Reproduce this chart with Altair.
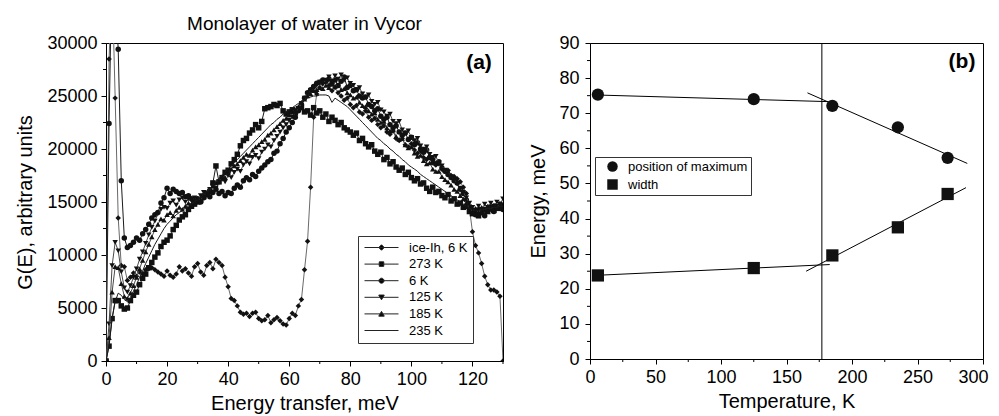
import altair as alt
import pandas as pd

FONT = "Liberation Sans"

# ---------------- panel (a): G(E) spectra, values in thousands of arbitrary units ----------------
energy = list(range(131))

ice_ih_6k = [0, 28.5, 36.0, 24.8, 13.5, 9.0, 8.9, 7.6, 7.9, 8.3,
             8.0, 8.4, 8.2, 8.6, 8.7, 8.8, 8.6, 8.4, 8.2, 8.0,
             8.5, 8.1, 7.9, 8.2, 8.9, 8.5, 8.7, 8.3, 8.0, 8.9,
             9.2, 8.4, 8.1, 9.0, 9.3, 8.7, 9.6, 9.3, 9.0, 7.9,
             7.0, 5.9, 5.7, 5.2, 4.6, 4.4, 4.5, 4.2, 4.5, 4.6,
             4.0, 3.8, 3.9, 4.3, 3.6, 3.9, 4.1, 3.8, 3.5, 3.4,
             4.0, 4.5, 4.3, 5.2, 5.8, 8.6, 11.3, 16.4, 23.0, 25.2,
             25.8, 26.2, 26.4, 26.0, 25.5, 25.8, 25.3, 25.0, 24.6, 24.8,
             24.2, 23.9, 24.1, 23.5, 23.3, 23.6, 23.0, 22.7, 22.9, 22.3,
             22.0, 22.2, 21.6, 21.4, 21.7, 21.0, 20.8, 21.0, 20.4, 20.2,
             20.5, 19.9, 19.6, 19.8, 19.2, 19.0, 19.3, 18.7, 18.5, 18.6,
             18.1, 17.9, 18.0, 17.5, 17.4, 17.2, 16.9, 16.4, 15.8, 14.4,
             12.2, 10.9, 10.2, 9.2, 8.0, 7.2, 6.7, 6.7, 6.5, 6.1,
             0]

water_273k = [0, 1.4, 4.0, 5.7, 5.7, 5.2, 4.9, 5.0, 5.7, 6.2,
              6.5, 7.2, 7.8, 8.2, 8.8, 9.3, 9.8, 10.2, 10.8, 11.2,
              11.4, 11.8, 12.4, 12.8, 13.3, 13.6, 13.8, 14.3, 14.6, 14.8,
              15.0, 15.2, 15.5, 15.8, 16.0, 16.8, 18.4, 16.9, 17.3, 17.8,
              18.0, 18.6, 19.0, 19.5, 20.3, 20.8, 21.0, 21.5, 21.8, 22.3,
              22.0, 22.6, 23.8, 23.9, 24.0, 24.2, 24.1, 24.3, 23.6, 23.3,
              23.5, 23.7, 23.4, 23.8, 23.9, 23.5, 23.6, 23.2, 23.9, 23.4,
              23.6, 23.0, 23.3, 22.6, 23.0, 22.7, 22.3, 22.5, 22.0, 21.8,
              21.6, 21.3, 21.5, 20.8, 21.0, 20.5, 20.2, 20.4, 19.8, 19.5,
              19.7, 19.0, 19.2, 18.6, 18.8, 18.3, 18.0, 18.2, 17.6, 17.8,
              17.3, 17.0, 17.2, 16.7, 16.8, 16.3, 16.0, 16.4, 15.9, 16.0,
              15.6, 15.4, 15.7, 15.1, 15.3, 14.8, 14.9, 14.5, 14.6, 14.1,
              13.9, 14.2, 13.7, 14.0, 14.3, 14.1, 14.5, 14.2, 14.6, 14.4,
              14.7]

water_6k = [0, 22.4, 38.0, 35.0, 29.4, 17.0, 11.6, 10.7, 10.9, 11.2,
            11.6, 11.4, 12.0, 12.4, 12.9, 13.5, 13.8, 14.0, 14.9, 15.4,
            16.3, 15.8, 16.2, 16.0, 15.8, 15.9, 15.5, 15.6, 15.3, 15.1,
            15.3, 15.0, 15.4, 15.7, 15.5, 15.9, 16.2, 15.8, 16.0, 15.6,
            15.9, 15.8, 16.3, 16.6, 16.4, 17.0, 17.3, 17.1, 17.6, 17.4,
            17.9, 18.2, 18.5, 18.8, 19.0, 19.6, 19.8, 20.5, 21.0, 21.6,
            22.0, 22.5, 23.0, 23.6, 24.2, 24.8, 25.3, 25.6, 25.9, 26.2,
            26.3, 26.5, 26.4, 26.6, 26.2, 26.5, 26.0, 26.4, 26.8, 25.8,
            26.0, 25.5, 25.6, 25.0, 24.8, 24.9, 24.2, 24.0, 23.6, 23.8,
            23.1, 22.8, 23.0, 22.3, 22.0, 22.2, 21.6, 21.3, 21.5, 20.9,
            21.1, 20.4, 20.6, 20.0, 19.7, 19.9, 19.2, 19.0, 18.6, 18.8,
            18.2, 17.9, 17.6, 17.3, 17.0, 16.8, 16.2, 15.8, 15.2, 14.6,
            14.2, 13.8, 14.3, 14.0, 13.7, 14.2, 14.5, 14.1, 14.4, 14.6,
            14.3]

water_125k = [0, 3.5, 9.0, 11.2, 10.4, 8.4, 6.9, 6.5, 7.1, 7.9,
              8.7, 9.6, 10.3, 11.1, 11.9, 12.6, 13.2, 13.9, 14.3, 14.5,
              14.4, 14.9, 15.1, 14.7, 15.2, 15.4, 15.0, 15.3, 15.1, 15.4,
              15.2, 15.6, 15.9, 15.7, 16.2, 16.5, 16.3, 16.8, 17.1, 16.9,
              17.5, 17.3, 17.8, 18.1, 17.9, 18.5, 18.8, 18.6, 19.2, 19.4,
              19.1, 19.7, 20.0, 20.4, 20.2, 20.8, 21.2, 21.6, 22.0, 22.3,
              22.7, 23.0, 23.4, 23.8, 24.3, 24.8, 25.2, 25.5, 25.7, 26.0,
              26.3, 26.1, 26.5, 26.8, 26.4, 26.9, 26.6, 27.0, 26.5, 26.7,
              26.2, 26.0, 25.6, 25.8, 25.2, 24.9, 25.1, 24.5, 24.2, 24.4,
              23.7, 23.5, 23.1, 23.3, 22.6, 22.4, 22.6, 21.8, 21.5, 21.7,
              21.1, 20.8, 21.0, 20.3, 20.0, 20.2, 19.5, 19.2, 19.3, 18.7,
              18.4, 18.0, 17.8, 17.4, 17.1, 16.7, 16.3, 15.9, 15.4, 14.9,
              14.5, 14.2, 14.6, 14.3, 14.8, 14.5, 14.9, 14.6, 15.0, 14.8,
              15.3]

water_185k = [0, 2.2, 6.5, 8.9, 8.8, 7.3, 6.1, 5.9, 6.4, 7.1,
              7.9, 8.7, 9.5, 10.3, 11.0, 11.7, 12.4, 12.9, 13.4, 13.3,
              13.8, 14.0, 13.7, 14.2, 14.5, 14.3, 14.6, 14.9, 14.8, 15.1,
              15.3, 15.2, 15.6, 15.9, 16.1, 16.5, 16.8, 17.0, 17.4, 17.3,
              17.8, 18.1, 18.4, 18.6, 18.9, 19.2, 19.5, 19.4, 19.9, 20.2,
              20.4, 20.7, 20.9, 21.3, 21.5, 21.8, 22.1, 22.4, 22.7, 22.9,
              23.2, 23.5, 23.7, 24.0, 24.4, 24.7, 25.0, 25.2, 25.5, 25.6,
              25.8, 25.7, 26.0, 25.8, 26.1, 25.9, 26.0, 25.6, 25.7, 25.3,
              25.1, 24.8, 24.9, 24.4, 24.1, 24.0, 23.6, 23.3, 23.4, 22.8,
              22.5, 22.6, 22.0, 21.7, 21.8, 21.2, 20.9, 21.0, 20.4, 20.1,
              20.2, 19.6, 19.3, 19.4, 18.9, 18.6, 18.7, 18.1, 17.9, 17.9,
              17.4, 17.1, 16.9, 16.6, 16.2, 16.0, 15.6, 15.3, 14.9, 14.5,
              14.1, 14.4, 14.0, 14.5, 14.2, 14.6, 14.3, 14.7, 14.5, 14.9,
              14.6]

water_235k = [0, 1.5, 4.0, 5.6, 6.4, 6.2, 5.8, 5.6, 6.0, 6.6,
              7.2, 7.9, 8.5, 9.2, 9.8, 10.4, 11.0, 11.5, 12.0, 12.5,
              12.9, 13.2, 13.5, 13.8, 14.0, 14.2, 14.4, 14.6, 14.8, 15.0,
              15.2, 15.4, 15.7, 16.0, 16.3, 16.6, 16.9, 17.2, 17.5, 17.8,
              18.1, 18.4, 18.7, 19.0, 19.3, 19.6, 19.9, 20.2, 20.5, 20.8,
              21.1, 21.4, 21.7, 22.0, 22.3, 22.5, 22.8, 23.0, 23.3, 23.5,
              23.7, 23.9, 24.1, 24.3, 24.5, 24.6, 24.8, 24.9, 25.0, 25.0,
              25.1, 25.1, 25.1, 25.0, 24.4, 24.8, 24.6, 24.4, 24.2, 24.0,
              23.7, 23.4, 23.1, 22.8, 22.5, 22.2, 21.9, 21.6, 21.3, 21.0,
              20.8, 20.5, 20.3, 20.0, 19.8, 19.5, 19.3, 19.0, 18.8, 18.5,
              18.3, 18.1, 17.9, 17.6, 17.4, 17.2, 17.0, 16.8, 16.6, 16.4,
              16.2, 16.0, 15.8, 15.6, 15.4, 15.2, 15.0, 14.8, 14.6, 14.4,
              14.3, 14.2, 14.2, 14.3, 14.3, 14.4, 14.4, 14.5, 14.5, 14.6,
              14.6]

series_names = ["ice-Ih, 6 K", "273 K", "\u2007\u20076 K", "125 K", "185 K", "235 K"]
series_values = [ice_ih_6k, water_273k, water_6k, water_125k, water_185k, water_235k]
series_shapes = ["diamond", "square", "circle", "triangle-down", "triangle-up", None]
series_line_colors = ["#6a6a6a", "#1a1a1a", "#1a1a1a", "#4a4a4a", "#4a4a4a", "#1a1a1a"]

x_major_a = [0, 20, 40, 60, 80, 100, 120]
x_minor_a = [10, 30, 50, 70, 90, 110, 130]
y_major_a = [0, 5000, 10000, 15000, 20000, 25000, 30000]
y_minor_a = [2500, 7500, 12500, 17500, 22500, 27500]

# ---------------- panel (b): peak position and width ----------------
temperature = [6, 125, 185, 235, 273]
position_of_maximum = [75.3, 74.0, 72.1, 66.0, 57.3]
peak_width = [23.8, 25.9, 29.5, 37.5, 47.0]

fit_segment = ["max_low", "max_low", "max_high", "max_high",
               "width_low", "width_low", "width_high", "width_high"]
fit_t = [4, 182, 166, 288, 3, 183, 165, 287]
fit_e = [75.2, 73.3, 75.8, 55.7, 23.8, 26.9, 25.0, 48.8]
transition_t = [177]

x_major_b = [0, 50, 100, 150, 200, 250, 300]
x_minor_b = [25, 75, 125, 175, 225, 275]
y_major_b = [0, 10, 20, 30, 40, 50, 60, 70, 80, 90]
y_minor_b = [5, 15, 25, 35, 45, 55, 65, 75, 85]

# ---------------- build tables ----------------
rows = []
for name, vals in zip(series_names, series_values):
    for e, g in zip(energy, vals):
        rows.append({"E": e, "G": g * 1000, "series": name})
spec_df = pd.DataFrame(rows)

W_A, H_A = 397, 318
W_B, H_B = 393, 316

xs_a = alt.Scale(domain=[0, 130], nice=False, zero=False)
ys_a = alt.Scale(domain=[0, 30000], nice=False)

x_axis_a = alt.Axis(values=x_major_a, title="Energy transfer, meV", format="d")
y_axis_a = alt.Axis(values=y_major_a, title="G(E), arbitrary units", format="d", titlePadding=11)

X_A = alt.X("E:Q", scale=xs_a, axis=x_axis_a)
Y_A = alt.Y("G:Q", scale=ys_a, axis=y_axis_a)

layers_a = []
for name, shape, lc in zip(series_names, series_shapes, series_line_colors):
    base = alt.Chart(spec_df).transform_filter(alt.datum.series == name)
    layers_a.append(
        base.mark_line(color=lc, strokeWidth=1, clip=True).encode(x=X_A, y=Y_A)
    )
    if shape is not None:
        layers_a.append(
            base.mark_point(shape=shape, filled=True, color="#111111", size=30,
                            opacity=1, clip=True).encode(x=X_A, y=Y_A)
        )

# legend symbols: a line with the marker in its middle
LINE = "M-1,0H5.8"
legend_paths = [
    LINE + "M1.85,0L2.4,-0.55L2.95,0L2.4,0.55Z",
    LINE + "M1.95,-0.45H2.85V0.45H1.95Z",
    LINE + "M1.9,0A0.5,0.5 0 1,0 2.9,0A0.5,0.5 0 1,0 1.9,0Z",
    LINE + "M1.85,-0.45H2.95L2.4,0.5Z",
    LINE + "M1.85,0.45H2.95L2.4,-0.5Z",
    LINE,
]
legend_df = pd.DataFrame({"series": series_names})
legend_a = alt.Chart(legend_df).mark_point(
    filled=True, fill="black", stroke="#222222", strokeWidth=1, opacity=0, size=100
).encode(
    x=alt.value(0), y=alt.value(0),
    shape=alt.Shape("series:N", scale=alt.Scale(domain=series_names, range=legend_paths),
                    legend=alt.Legend(title=None, orient="none", legendX=252, legendY=193,
                                      padding=5, rowPadding=2.6, labelFontSize=13,
                                      labelFont=FONT, labelColor="black",
                                      symbolSize=100, symbolStrokeWidth=1, symbolOpacity=1,
                                      labelOffset=33, strokeColor="#333333",
                                      fillColor="white")),
)
layers_a.append(legend_a)

# minor ticks
layers_a.append(
    alt.Chart(pd.DataFrame({"E": x_minor_a})).mark_rule(color="black", strokeWidth=1).encode(
        x=X_A, y=alt.value(H_A), y2=alt.value(H_A + 3))
)
layers_a.append(
    alt.Chart(pd.DataFrame({"G": y_minor_a})).mark_rule(color="black", strokeWidth=1).encode(
        y=Y_A, x=alt.value(-3), x2=alt.value(0))
)
layers_a.append(
    alt.Chart(pd.DataFrame({"t": ["(a)"]})).mark_text(
        fontSize=21, fontWeight="bold", font=FONT, color="black").encode(
        x=alt.value(373), y=alt.value(20), text="t:N")
)

left = alt.layer(*layers_a).properties(
    width=W_A, height=H_A,
    title=alt.TitleParams("Monolayer of water in Vycor", fontSize=19, fontWeight="normal",
                          font=FONT, color="black", offset=0, anchor="middle"),
)

# ---------------- panel (b) ----------------
pts_rows = []
for t, m, w in zip(temperature, position_of_maximum, peak_width):
    pts_rows.append({"T": t, "E": m, "kind": "position of maximum"})
    pts_rows.append({"T": t, "E": w, "kind": "width"})
pts_df = pd.DataFrame(pts_rows)
fit_df = pd.DataFrame({"seg": fit_segment, "T": fit_t, "E": fit_e})

xs_b = alt.Scale(domain=[0, 300], nice=False)
ys_b = alt.Scale(domain=[0, 90], nice=False)
x_axis_b = alt.Axis(
    values=x_major_b, title="Temperature, K", format="d",
    labelAlign={"condition": {"test": "datum.value == 300", "value": "right"}, "value": "center"},
    labelOffset={"condition": {"test": "datum.value == 300", "value": 5}, "value": 0},
)
y_axis_b = alt.Axis(values=y_major_b, title="Energy, meV", format="d", labelPadding=6,
                    titlePadding=10)
X_B = alt.X("T:Q", scale=xs_b, axis=x_axis_b)
Y_B = alt.Y("E:Q", scale=ys_b, axis=y_axis_b)

fits = alt.Chart(fit_df).mark_line(color="black", strokeWidth=1).encode(
    x=X_B, y=Y_B, detail="seg:N")
vline = alt.Chart(pd.DataFrame({"T": transition_t})).mark_rule(color="black", strokeWidth=1).encode(
    x=X_B)
points_b = alt.Chart(pts_df).mark_point(filled=True, color="#111111", size=150, opacity=1).encode(
    x=X_B, y=Y_B,
    shape=alt.Shape("kind:N", scale=alt.Scale(domain=["position of maximum", "width"],
                                              range=["circle", "square"]),
                    legend=alt.Legend(title=None, orient="none", legendX=5, legendY=114,
                                      padding=3, rowPadding=4, labelFontSize=13,
                                      labelFont=FONT, labelColor="black",
                                      symbolSize=110, symbolFillColor="#111111",
                                      symbolStrokeWidth=0, symbolOpacity=1,
                                      symbolOffset=8, labelOffset=9,
                                      strokeColor="#333333", fillColor="white")),
)
minor_b_x = alt.Chart(pd.DataFrame({"T": x_minor_b})).mark_rule(color="black").encode(
    x=X_B, y=alt.value(H_B), y2=alt.value(H_B + 3))
minor_b_y = alt.Chart(pd.DataFrame({"E": y_minor_b})).mark_rule(color="black").encode(
    y=Y_B, x=alt.value(-3), x2=alt.value(0))
label_b = alt.Chart(pd.DataFrame({"t": ["(b)"]})).mark_text(
    fontSize=21, fontWeight="bold", font=FONT, color="black").encode(
    x=alt.value(372), y=alt.value(19), text="t:N")

right = alt.layer(vline, fits, points_b, minor_b_x, minor_b_y, label_b).properties(
    width=W_B, height=H_B)

chart = alt.hconcat(left, right, spacing=87, bounds="flush").resolve_scale(
    shape="independent"
).resolve_legend(
    shape="independent"
).configure(
    font=FONT,
    padding={"left": 7, "top": 6, "right": 2, "bottom": 2},
).configure_view(
    stroke="black", strokeWidth=1,
).configure_legend(
    labelFontSize=13, labelFont=FONT,
).configure_axis(
    grid=False, domainColor="black", tickColor="black", labelColor="black",
    titleColor="black", labelFontSize=18, titleFontSize=20, titleFontWeight="normal",
    tickSize=5, labelPadding=4, titlePadding=5, labelFont=FONT, titleFont=FONT,
    labelFlush=False,
)

chart.save("out.html", embed_options={"renderer": "svg", "actions": False})
